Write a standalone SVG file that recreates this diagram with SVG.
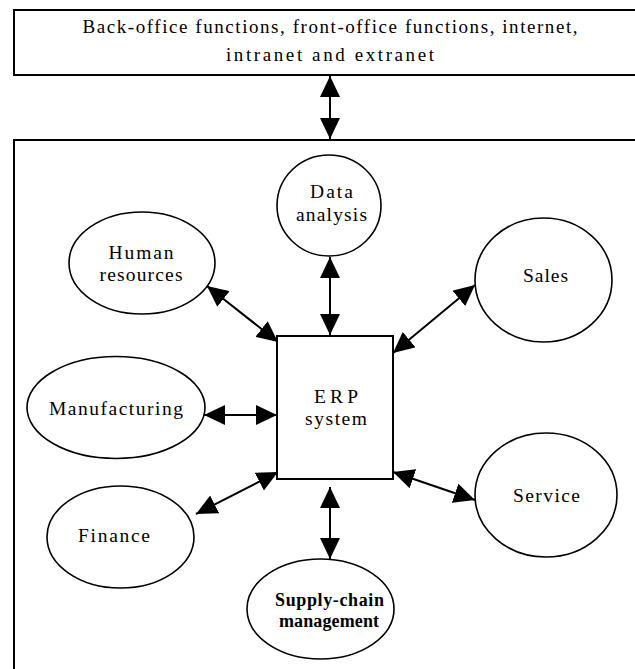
<svg xmlns="http://www.w3.org/2000/svg" width="635" height="669" viewBox="0 0 635 669">
  <style>
    .frame { fill: #fff; stroke: #000; stroke-width: 2; }
    .node { fill: #fff; stroke: #000; stroke-width: 1.6; }
    .erp { fill: #fff; stroke: #000; stroke-width: 2; }
    .link { stroke: #000; stroke-width: 2; fill: none; marker-start: url(#head); marker-end: url(#head); }
    text { font-family: "Liberation Serif", "DejaVu Serif", serif; fill: #000; text-anchor: middle; }
    .lbl { font-size: 19.5px; }
    .top { font-size: 19px; }
    .bold { font-weight: bold; font-size: 18px; }
  </style>
  <defs>
    <marker id="head" viewBox="0 0 21 20" refX="21" refY="10" markerWidth="21" markerHeight="20" markerUnits="userSpaceOnUse" orient="auto-start-reverse">
      <path d="M0,0 L21,10 L0,20 z" fill="#000"/>
    </marker>
  </defs>
  <rect width="635" height="669" fill="#fff"/>

  <!-- outer frames -->
  <g id="environment">
    <rect class="frame" x="14" y="10" width="640" height="65"/>
    <text class="top" x="330" y="33" textLength="495">Back-office functions, front-office functions, internet,</text>
    <text class="top" x="330" y="61" textLength="208">intranet and extranet</text>
  </g>
  <g id="enterprise">
    <rect class="frame" x="14" y="140" width="640" height="560"/>
  </g>

  <!-- connectors -->
  <g id="connectors">
    <line class="link" x1="330" y1="76" x2="330" y2="139"/>
    <line class="link" x1="330" y1="257" x2="330" y2="335"/>
    <line class="link" x1="207" y1="286" x2="278" y2="342"/>
    <line class="link" x1="475" y1="285" x2="393" y2="353"/>
    <line class="link" x1="204" y1="415" x2="277" y2="415"/>
    <line class="link" x1="196" y1="514" x2="278" y2="472"/>
    <line class="link" x1="393" y1="472" x2="475" y2="500"/>
    <line class="link" x1="330" y1="487" x2="330" y2="559"/>
  </g>

  <!-- nodes -->
  <g id="erp-system">
    <rect class="erp" x="277" y="336" width="116" height="143"/>
    <text class="lbl" x="336" y="403" textLength="44">ERP</text>
    <text class="lbl" x="336" y="425" textLength="62">system</text>
  </g>
  <g id="data-analysis">
    <ellipse class="node" cx="329" cy="205.5" rx="52" ry="50.5"/>
    <text class="lbl" x="331.5" y="198" textLength="43">Data</text>
    <text class="lbl" x="331.5" y="221" textLength="71">analysis</text>
  </g>
  <g id="human-resources">
    <ellipse class="node" cx="142" cy="263" rx="73" ry="51"/>
    <text class="lbl" x="141" y="259" textLength="65">Human</text>
    <text class="lbl" x="141" y="281" textLength="83">resources</text>
  </g>
  <g id="sales">
    <ellipse class="node" cx="543.5" cy="280" rx="68.5" ry="62"/>
    <text class="lbl" x="545.5" y="282" textLength="45">Sales</text>
  </g>
  <g id="manufacturing">
    <ellipse class="node" cx="116" cy="407.5" rx="89" ry="51"/>
    <text class="lbl" x="116" y="415" textLength="134">Manufacturing</text>
  </g>
  <g id="finance">
    <ellipse class="node" cx="120.5" cy="537" rx="73.5" ry="51"/>
    <text class="lbl" x="114" y="542" textLength="72">Finance</text>
  </g>
  <g id="service">
    <ellipse class="node" cx="546" cy="495" rx="71" ry="62"/>
    <text class="lbl" x="546.5" y="502" textLength="67">Service</text>
  </g>
  <g id="supply-chain-management">
    <ellipse class="node" cx="320.5" cy="609" rx="73.5" ry="50"/>
    <text class="bold" x="329.5" y="606" textLength="109">Supply-chain</text>
    <text class="bold" x="329" y="627" textLength="100">management</text>
  </g>
</svg>
